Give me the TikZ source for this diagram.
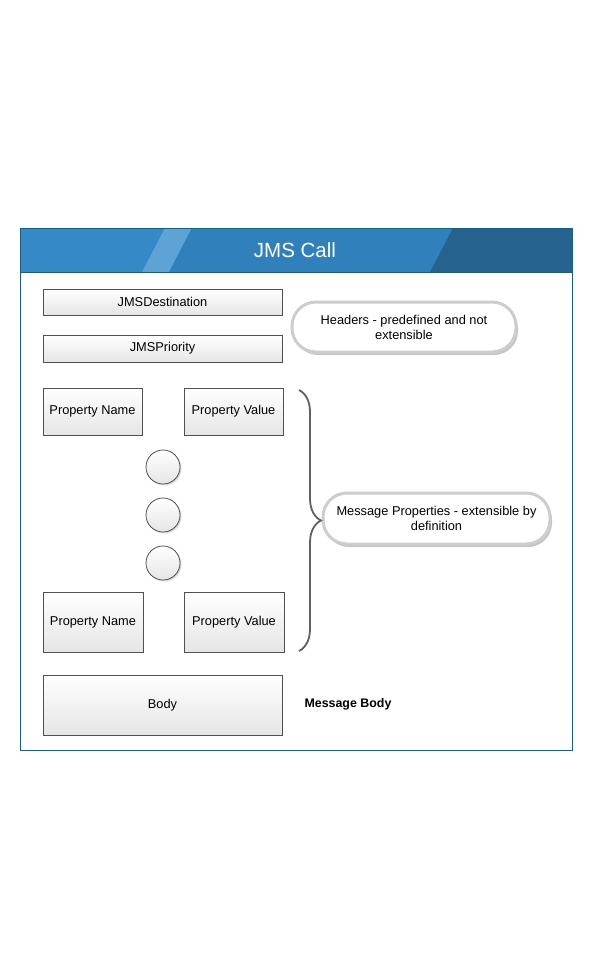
\documentclass[tikz,border=0pt]{standalone}
\usepackage{fontspec}
\setmainfont{Liberation Sans}
\usetikzlibrary{shadows,decorations.pathreplacing}
\definecolor{framec}{HTML}{1B5E80}
\definecolor{bandc}{HTML}{3589C6}
\definecolor{stripec}{HTML}{5EA3D6}
\definecolor{midc}{HTML}{2F80BB}
\definecolor{darkc}{HTML}{25628E}
\definecolor{edgec}{HTML}{505050}
\definecolor{ringc}{HTML}{CDCDCD}

\begin{document}
\begin{tikzpicture}[x=1pt,y=-1pt,
  field/.style={draw=edgec,line width=0.8pt,top color=white,bottom color=gray!20,minimum width=239pt,font=\fontsize{12.8}{15}\selectfont},
  pair/.style={field,minimum width=99pt},
  dot/.style={circle,draw=edgec,line width=0.8pt,top color=white,bottom color=gray!20,minimum size=34pt,drop shadow={shadow xshift=1.5pt,shadow yshift=-1.5pt,opacity=0.3}},
  note/.style={draw=ringc,line width=3pt,fill=white,rounded corners=24pt,align=center,font=\fontsize{12.8}{15}\selectfont,drop shadow={shadow xshift=2pt,shadow yshift=-3pt,opacity=0.45}}]
  \fill[white] (0,0) rectangle (593,979);
  \useasboundingbox (0,0) rectangle (593,979);
  \fill[bandc] (20,228) rectangle (572,272);
  \fill[stripec] (142,272) -- (165,228) -- (192,228) -- (169,272) -- cycle;
  \fill[midc] (169,272) -- (192,228) -- (453,228) -- (430,272) -- cycle;
  \fill[darkc] (430,272) -- (453,228) -- (572,228) -- (572,272) -- cycle;
  \draw[framec,line width=1pt] (20,272) -- (572,272);
  \draw[framec,line width=1pt] (20,228) rectangle (572,750);
  \node[text=white,font=\fontsize{20.5}{24}\selectfont] (title) at (295,250) {JMS Call};
  \node[field,minimum height=26pt] (dest) at (162.5,302) {JMSDestination};
  \node[field,minimum height=27pt] (prio) at (162.5,348.5) {JMSPriority};
  \node[note,minimum width=224pt,minimum height=50pt] (headers) at (404,327) {Headers - predefined and not\\extensible};
  \node[pair,minimum height=47pt] (pname1) at (92.5,411.5) {Property Name};
  \node[pair,minimum height=47pt] (pvalue1) at (233.5,411.5) {Property Value};
  \node[dot] (dot1) at (163,467) {};
  \node[dot] (dot2) at (163,515) {};
  \node[dot] (dot3) at (163,563) {};
  \node[pair,minimum width=100pt,minimum height=60pt] (pname2) at (93,622) {Property Name};
  \node[pair,minimum width=100pt,minimum height=60pt] (pvalue2) at (234,622) {Property Value};
  \node[field,minimum height=60pt] (body) at (162.5,705) {Body};
  \node[note,minimum width=227pt,minimum height=51pt] (props) at (436.5,518.5) {Message Properties - extensible by\\definition};
  \node[font=\bfseries\fontsize{12.4}{15}\selectfont] (mbody) at (348,704) {Message Body};
  \coordinate (brtop) at (299,390);
  \coordinate (brbot) at (299,651);
  \draw[edgec!90,line width=1.8pt,decorate,decoration={brace,amplitude=22pt}] (brtop) -- (brbot);
\end{tikzpicture}
\end{document}
